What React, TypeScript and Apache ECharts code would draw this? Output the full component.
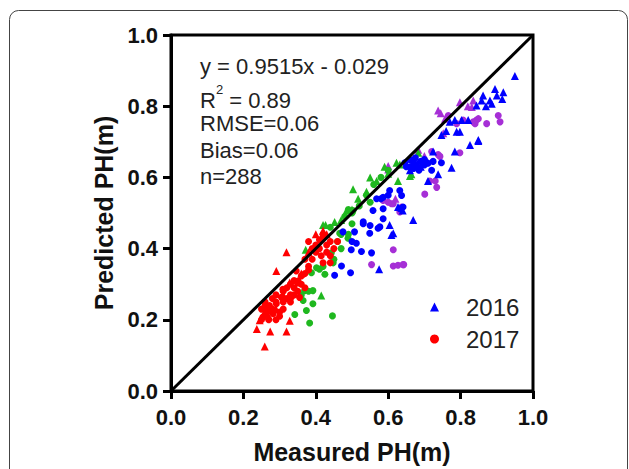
import React, { useEffect, useRef } from "react";
import * as echarts from "echarts";

const xTicks = [0, 0.2, 0.4, 0.6, 0.8, 1.0];
const oneToOne = [[0, 0], [1, 1]];

const redCircles2017 = [
  [0.38,0.42],[0.41,0.425],[0.43,0.41],[0.40,0.39],[0.415,0.38],[0.44,0.38],[0.39,0.37],[0.37,0.37],
  [0.39,0.40],[0.42,0.43],[0.44,0.42],[0.45,0.40],[0.43,0.39],[0.40,0.41],[0.42,0.36],[0.38,0.35],
  [0.46,0.42],[0.42,0.44],[0.44,0.36],[0.41,0.40],
  [0.346,0.337],[0.36,0.323],[0.351,0.309],[0.37,0.33],[0.34,0.31],[0.36,0.30],[0.33,0.30],[0.35,0.28],
  [0.38,0.34],[0.34,0.29],[0.32,0.29],[0.37,0.29],[0.33,0.27],[0.31,0.28],[0.355,0.263],
  [0.309,0.286],[0.332,0.263],[0.305,0.263],[0.291,0.245],[0.272,0.24],[0.263,0.226],[0.282,0.217],
  [0.30,0.222],[0.254,0.208],[0.29,0.25],[0.28,0.23],[0.27,0.225],[0.26,0.215],[0.31,0.25],[0.32,0.26],
  [0.28,0.26],[0.26,0.24],[0.30,0.21],[0.25,0.23],[0.33,0.25],[0.27,0.20],[0.29,0.20],[0.31,0.23],
  [0.26,0.25],[0.25,0.20],[0.29,0.27],[0.34,0.27]
];
const redTriangles2016 = [
  [0.319,0.39],[0.291,0.337],[0.245,0.199],[0.237,0.174],[0.274,0.167],[0.319,0.167],[0.328,0.197],
  [0.259,0.125],[0.328,0.305],[0.35,0.305],[0.36,0.33],[0.40,0.44],[0.42,0.45],[0.31,0.27],[0.29,0.23],
  [0.27,0.21],[0.38,0.39],[0.43,0.44]
];
const greenCircles2017 = [
  [0.369,0.282],[0.392,0.282],[0.365,0.254],[0.392,0.245],[0.374,0.226],[0.342,0.215],[0.446,0.211],
  [0.383,0.191],[0.402,0.346],[0.425,0.328],[0.388,0.332],[0.448,0.36],[0.443,0.388],[0.41,0.342],
  [0.38,0.28],[0.42,0.35],[0.466,0.443],[0.489,0.429],[0.47,0.40],[0.46,0.42],[0.47,0.44],[0.50,0.47],
  [0.44,0.46],[0.48,0.49],[0.503,0.507],[0.49,0.51],[0.52,0.52],[0.50,0.50],[0.54,0.55],[0.56,0.58],
  [0.58,0.60],[0.60,0.62],[0.55,0.53],[0.49,0.44],[0.36,0.27],[0.45,0.37]
];
const greenTriangles2016 = [
  [0.372,0.397],[0.415,0.268],[0.427,0.466],[0.452,0.475],[0.42,0.466],[0.503,0.567],[0.568,0.59],
  [0.623,0.641],[0.517,0.54],[0.485,0.507],[0.632,0.636],[0.664,0.609],[0.627,0.59],[0.683,0.669],
  [0.66,0.604],[0.55,0.60],[0.59,0.63],[0.47,0.48],[0.54,0.56],[0.60,0.61],[0.50,0.51]
];
const blueCircles2017 = [
  [0.568,0.54],[0.586,0.544],[0.604,0.563],[0.632,0.563],[0.637,0.549],[0.558,0.507],[0.531,0.475],
  [0.586,0.484],[0.577,0.461],[0.549,0.443],[0.475,0.447],[0.507,0.447],[0.512,0.415],[0.498,0.397],
  [0.526,0.392],[0.554,0.388],[0.471,0.351],[0.452,0.325],[0.496,0.332],[0.55,0.465],[0.572,0.457],
  [0.586,0.512],[0.632,0.512],[0.641,0.517],[0.724,0.645],[0.747,0.641],[0.72,0.62],[0.646,0.641],
  [0.66,0.63],[0.67,0.64],[0.68,0.63],[0.69,0.645],[0.70,0.635],[0.66,0.65],[0.675,0.655],[0.685,0.62],
  [0.70,0.65],[0.65,0.63],[0.71,0.64],[0.67,0.625],[0.60,0.55],[0.531,0.47],[0.5,0.42],[0.58,0.54]
];
const blueTriangles2016 = [
  [0.604,0.466],[0.609,0.438],[0.669,0.48],[0.627,0.517],[0.575,0.342],[0.724,0.673],[0.784,0.673],
  [0.775,0.627],[0.738,0.609],[0.71,0.59],[0.826,0.691],[0.849,0.702],[0.64,0.507],[0.798,0.728],
  [0.95,0.885],[0.895,0.848],[0.918,0.839],[0.915,0.82],[0.881,0.816],[0.858,0.816],[0.886,0.807],
  [0.844,0.802],[0.821,0.761],[0.803,0.761],[0.784,0.761],[0.77,0.756],[0.789,0.728],[0.76,0.73],
  [0.849,0.705],[0.747,0.719],[0.862,0.83],[0.68,0.64],[0.70,0.65],[0.66,0.62],[0.69,0.63],[0.87,0.80],
  [0.90,0.83],[0.614,0.443]
];
const purpleCircles2017 = [
  [0.554,0.355],[0.614,0.397],[0.614,0.351],[0.627,0.353],[0.643,0.355],[0.609,0.526],[0.632,0.503],
  [0.701,0.553],[0.734,0.572],[0.72,0.673],[0.743,0.659],[0.798,0.669],[0.715,0.59],[0.73,0.59],
  [0.904,0.774],[0.909,0.756],[0.872,0.751],[0.844,0.761],[0.835,0.756],[0.849,0.765],[0.84,0.751],
  [0.807,0.761],[0.789,0.751],[0.766,0.774],[0.586,0.535],[0.614,0.526],[0.637,0.517],[0.60,0.53],
  [0.738,0.664],[0.641,0.355]
];
const purpleTriangles2016 = [
  [0.683,0.678],[0.752,0.724],[0.738,0.788],[0.798,0.811],[0.835,0.816],[0.831,0.798],[0.757,0.765],
  [0.6,0.622],[0.6,0.632],[0.70,0.66],[0.62,0.54],[0.745,0.78],[0.82,0.80]
];

const statsLines = ["y = 0.9515x - 0.029", "R2 = 0.89", "RMSE=0.06", "Bias=0.06", "n=288"];

const RED = "#ff0000";
const GREEN = "#1fb81f";
const BLUE = "#0000ff";
const PURPLE = "#a62fd6";
const FONT = "'Liberation Sans', Arial, sans-serif";

export default function App() {
  const ref = useRef<HTMLDivElement>(null);
  useEffect(() => {
    if (!ref.current) return;
    const chart = echarts.init(ref.current, null, { renderer: "svg" });
    const sc = (name: string, data: number[][], color: string, tri: boolean, z: number) => ({
      type: "scatter",
      name,
      data,
      symbol: tri ? "triangle" : "circle",
      symbolSize: tri ? 8 : 7,
      itemStyle: { color, opacity: 1 },
      z,
    });
    const axisCommon = {
      type: "value",
      min: 0,
      max: 1,
      interval: 0.2,
      axisLine: { show: true, onZero: false, lineStyle: { color: "#000", width: 3 } },
      axisTick: { show: true, inside: false, length: 8, lineStyle: { color: "#000", width: 3 } },
      splitLine: { show: false },
      nameLocation: "middle",
      nameTextStyle: { fontFamily: FONT, fontWeight: "bold", fontSize: 25, color: "#111" },
    };
    const labelCommon = {
      fontFamily: FONT,
      fontWeight: "bold",
      fontSize: 22,
      color: "#111",
      formatter: (v: number) => v.toFixed(1),
    };
    const textLineYs = [67, 97, 124, 151, 177];
    const graphics: any[] = [
      {
        type: "rect",
        shape: { x: 9.5, y: 10.5, width: 618, height: 520, r: 9 },
        style: { fill: "none", stroke: "#444", lineWidth: 1 },
        silent: true,
      },
    ];
    statsLines.forEach((t, i) => {
      if (t.startsWith("R2")) {
        graphics.push({
          type: "text",
          left: 200,
          top: textLineYs[i] - 14,
          style: {
            text: "{a|R}{s|2}{a| = 0.89}",
            rich: {
              a: { fontFamily: FONT, fontSize: 22, fill: "#222", lineHeight: 28, verticalAlign: "bottom" },
              s: { fontFamily: FONT, fontSize: 13, fill: "#222", lineHeight: 28, verticalAlign: "top", padding: [0, 0, 0, 0] },
            },
          },
        });
      } else {
        graphics.push({
          type: "text",
          left: 200,
          top: textLineYs[i] - 12,
          style: { text: t, fontFamily: FONT, fontSize: 22, fill: "#222" },
        });
      }
    });
    chart.setOption({
      animation: false,
      grid: { left: 171, top: 35, width: 362, height: 362, show: true, borderColor: "#000", borderWidth: 3, backgroundColor: "transparent" },
      xAxis: {
        ...axisCommon,
        name: "Measured PH(m)",
        nameGap: 48,
        axisLabel: { ...labelCommon, margin: 15 },
      },
      yAxis: {
        ...axisCommon,
        name: "Predicted PH(m)",
        nameGap: 54,
        nameRotate: 90,
        axisLabel: { ...labelCommon, margin: 13 },
      },
      legend: {
        data: ["2016", "2017"],
        orient: "vertical",
        left: 425,
        top: 290,
        itemWidth: 9,
        itemHeight: 9,
        itemGap: 8,
        textStyle: { fontFamily: FONT, fontSize: 24, color: "#222", lineHeight: 24, padding: [0, 0, 0, 22] },
        selectedMode: false,
      },
      graphic: graphics,
      series: [
        sc("p17", purpleCircles2017, PURPLE, false, 2),
        sc("p16", purpleTriangles2016, PURPLE, true, 2),
        sc("g17", greenCircles2017, GREEN, false, 3),
        sc("g16", greenTriangles2016, GREEN, true, 3),
        sc("2017b", blueCircles2017, BLUE, false, 4),
        sc("2016", blueTriangles2016, BLUE, true, 4),
        sc("2017", redCircles2017, RED, false, 5),
        sc("r16", redTriangles2016, RED, true, 5),
        {
          type: "line",
          name: "1:1",
          data: oneToOne,
          symbol: "none",
          lineStyle: { color: "#000", width: 3 },
          z: 6,
        },
      ],
    });
    return () => chart.dispose();
  }, []);
  return <div ref={ref} style={{ position: "absolute", left: 0, top: 0, width: 629, height: 469 }} />;
}
